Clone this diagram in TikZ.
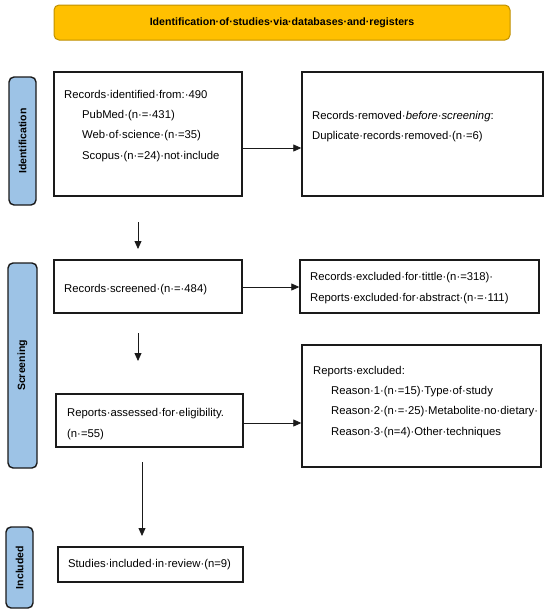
\documentclass[tikz,border=0pt]{standalone}
\usepackage{fontspec}
\setmainfont{Liberation Sans}
\usetikzlibrary{arrows.meta,calc}
\definecolor{titlefill}{HTML}{FFC000}
\definecolor{titleborder}{HTML}{BF9000}
\definecolor{labelfill}{HTML}{9DC3E6}
\definecolor{edge}{HTML}{1A1A1A}
\newcommand{\dt}{\textperiodcentered}
\begin{document}
\begin{tikzpicture}[x=1pt,y=-1pt,
  box/.style={draw=edge,line width=1.4pt,rectangle,inner sep=0pt},
  txt/.style={anchor=base west,inner sep=0pt,font=\fontsize{11.3}{13}\selectfont},
  sidelabel/.style={draw=edge,line width=1.4pt,fill=labelfill,rounded corners=5pt,inner sep=0pt},
  sidetext/.style={rotate=90,font=\fontsize{10.5}{12}\selectfont\bfseries,inner sep=0pt},
  arr/.style={-{Triangle[length=8pt,width=7pt]},line width=0.8pt,draw=edge}]
\useasboundingbox (0,0) rectangle (550,616);
% title
\node[draw=titleborder,line width=1pt,fill=titlefill,rounded corners=5pt,minimum width=456pt,minimum height=35pt,inner sep=0pt] (title) at (282,22.5) {};
\node[font=\fontsize{10.6}{12}\selectfont\bfseries,inner sep=0pt] (titletext) at (282,23) {Identification\dt of\dt studies\dt via\dt databases\dt and\dt registers};
% side labels
\node[sidelabel,minimum width=27pt,minimum height=128pt] (lid) at (22.5,141) {};
\node[sidetext] (lidt) at (lid.center) {Identification};
\node[sidelabel,minimum width=29pt,minimum height=205pt] (lsc) at (22.5,365.5) {};
\node[sidetext] (lsct) at (lsc.center) {Screening};
\node[sidelabel,minimum width=27pt,minimum height=81pt] (lin) at (19.5,567.5) {};
\node[sidetext] (lint) at (lin.center) {Included};
% boxes
\node[box,minimum width=188pt,minimum height=124pt] (b1) at (148,134) {};
\node[box,minimum width=241pt,minimum height=124pt] (b2) at (422.5,134) {};
\node[box,minimum width=188pt,minimum height=53pt] (b3) at (148,286.5) {};
\node[box,minimum width=239pt,minimum height=53pt] (b4) at (419.5,286.5) {};
\node[box,minimum width=187pt,minimum height=53pt] (b5) at (149.5,420.5) {};
\node[box,minimum width=239pt,minimum height=122pt] (b6) at (421.5,406) {};
\node[box,minimum width=185pt,minimum height=35pt] (b7) at (150.5,564.5) {};
% texts
\node[txt] (t1a) at (64,98) {Records\dt identified\dt from:\dt 490};
\node[txt] (t1b) at (82,118) {PubMed\dt(n\dt=\dt431)};
\node[txt] (t1c) at (82,138) {Web\dt of\dt science\dt(n\dt=35)};
\node[txt] (t1d) at (82,159) {Scopus\dt(n\dt=24)\dt not\dt include};
\node[txt] (t2a) at (312,119) {Records\dt removed\dt\textit{before\dt screening}:};
\node[txt] (t2b) at (312,139) {Duplicate\dt records\dt removed\dt(n\dt=6)};
\node[txt] (t3) at (64,292) {Records\dt screened\dt(n\dt=\dt484)};
\node[txt] (t4a) at (310,280) {Records\dt excluded\dt for\dt tittle\dt(n\dt=318)\dt};
\node[txt] (t4b) at (310,301) {Reports\dt excluded\dt for\dt abstract\dt(n\dt=\dt111)};
\node[txt] (t5a) at (67,416) {Reports\dt assessed\dt for\dt eligibility.};
\node[txt] (t5b) at (67,437) {(n\dt=55)};
\node[txt] (t6a) at (313,374) {Reports\dt excluded:};
\node[txt] (t6b) at (331,394) {Reason\dt 1\dt(n\dt=15)\dt Type\dt of\dt study};
\node[txt] (t6c) at (331,414) {Reason\dt 2\dt(n\dt=\dt25)\dt Metabolite\dt no\dt dietary\dt};
\node[txt] (t6d) at (331,435) {Reason\dt 3\dt(n=4)\dt Other\dt techniques};
\node[txt,anchor=base] (t7) at (149.5,567) {Studies\dt included\dt in\dt review\dt(n=9)};
% arrows
\draw[arr] (b1.east |- 0,148) -- (b2.west |- 0,148);
\draw[arr] (b3.east |- 0,287) -- (b4.west |- 0,287);
\draw[arr] (b5.east |- 0,423) -- (b6.west |- 0,423);
\coordinate (d1s) at (138,222); \coordinate (d1e) at (138,249);
\coordinate (d2s) at (138,333); \coordinate (d2e) at (138,361);
\coordinate (d3s) at (142,462); \coordinate (d3e) at (142,536);
\draw[arr] (d1s) -- (d1e);
\draw[arr] (d2s) -- (d2e);
\draw[arr] (d3s) -- (d3e);
\end{tikzpicture}
\end{document}
